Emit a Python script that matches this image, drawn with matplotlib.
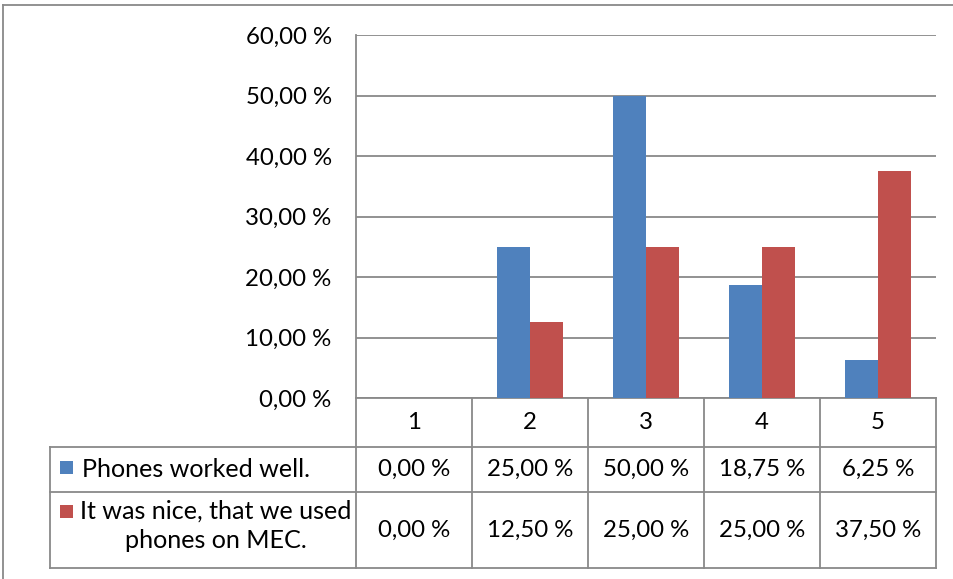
import matplotlib
matplotlib.use("Agg")
import matplotlib.pyplot as plt
from matplotlib.patches import Rectangle

plt.rcParams["font.family"] = ["Lato", "DejaVu Sans"]

# survey answers on a 1-5 scale, share of respondents (%)
categories = ["1", "2", "3", "4", "5"]
series_names = ["Phones worked well.", "It was nice, that we used\nphones on MEC."]
phones_worked = [0.00, 25.00, 50.00, 18.75, 6.25]
nice_to_use = [0.00, 12.50, 25.00, 25.00, 37.50]
values = [phones_worked, nice_to_use]
colors = ["#4F81BD", "#C0504D"]
yticks = [0, 10, 20, 30, 40, 50, 60]

W, H = 954, 579
LINE = "#898989"
FS = 17.3      # numbers
FS_NAME = 18.1  # series names

def pct(v):
    return f"{v:.2f}".replace(".", ",") + " %"

fig = plt.figure(figsize=(W / 100, H / 100), dpi=100)

# full-figure pixel canvas for the frame and the data table
bg = fig.add_axes([0, 0, 1, 1], zorder=0)
bg.set_xlim(0, W)
bg.set_ylim(H, 0)
bg.axis("off")

# plot area box in pixels
L, R, T, B = 356, 936, 35, 398
ax = fig.add_axes([L / W, 1 - B / H, (R - L) / W, (B - T) / H], zorder=1)
ax.set_facecolor("none")

n = len(categories)
x = list(range(1, n + 1))
bw = 0.285
for i, (vals, c) in enumerate(zip(values, colors)):
    off = (i - 0.5) * bw
    ax.bar([xi + off for xi in x], vals, width=bw, color=c, zorder=3, linewidth=0)

ax.set_xlim(0.5, n + 0.5)
ax.set_ylim(0, 60)
ax.set_yticks(yticks)
ax.set_yticklabels([pct(v) for v in yticks], fontsize=FS)
ax.tick_params(axis="y", length=0, pad=17.5)
ax.set_xticks([])
ax.grid(axis="y", color=LINE, lw=1.3, zorder=1)
for s in ["top", "right", "bottom"]:
    ax.spines[s].set_visible(False)
ax.spines["left"].set_color(LINE)
ax.spines["left"].set_linewidth(1.3)

# outer chart border
bg.plot([3, 3], [5, H], color=LINE, lw=1.3)
bg.plot([3, W - 1], [5, 5], color=LINE, lw=1.3)

# data table under the plot
col_w = (R - L) / n
edges = [L + col_w * k for k in range(n + 1)]
leg_l = 50
row_y = [B, 447, 492, 568]
lw = 1.3
bg.plot([L, R], [B, B], color=LINE, lw=lw)
for yy in row_y[1:]:
    bg.plot([leg_l, R], [yy, yy], color=LINE, lw=lw)
for xx in edges:
    bg.plot([xx, xx], [B, row_y[-1]], color=LINE, lw=lw)
bg.plot([leg_l, leg_l], [row_y[1], row_y[-1]], color=LINE, lw=lw)

for k, cat in enumerate(categories):
    cx = (edges[k] + edges[k + 1]) / 2
    bg.text(cx, (row_y[0] + row_y[1]) / 2, cat, ha="center", va="center", fontsize=FS)

# series rows: legend key, name and values
key_y = [461, 505]
for r in range(2):
    top, bot = row_y[r + 1], row_y[r + 2]
    cy = (top + bot) / 2
    bg.add_patch(Rectangle((60, key_y[r]), 13, 13, color=colors[r], lw=0))
    if r == 0:
        bg.text(82, cy, series_names[r], ha="left", va="center", fontsize=FS_NAME)
    else:
        bg.text(216, cy - 4, series_names[r], ha="center", va="center",
                fontsize=FS_NAME, multialignment="center", linespacing=1.32)
    for k, v in enumerate(values[r]):
        cx = (edges[k] + edges[k + 1]) / 2
        bg.text(cx, cy, pct(v), ha="center", va="center", fontsize=FS)

fig.savefig("out.png", dpi=100)
